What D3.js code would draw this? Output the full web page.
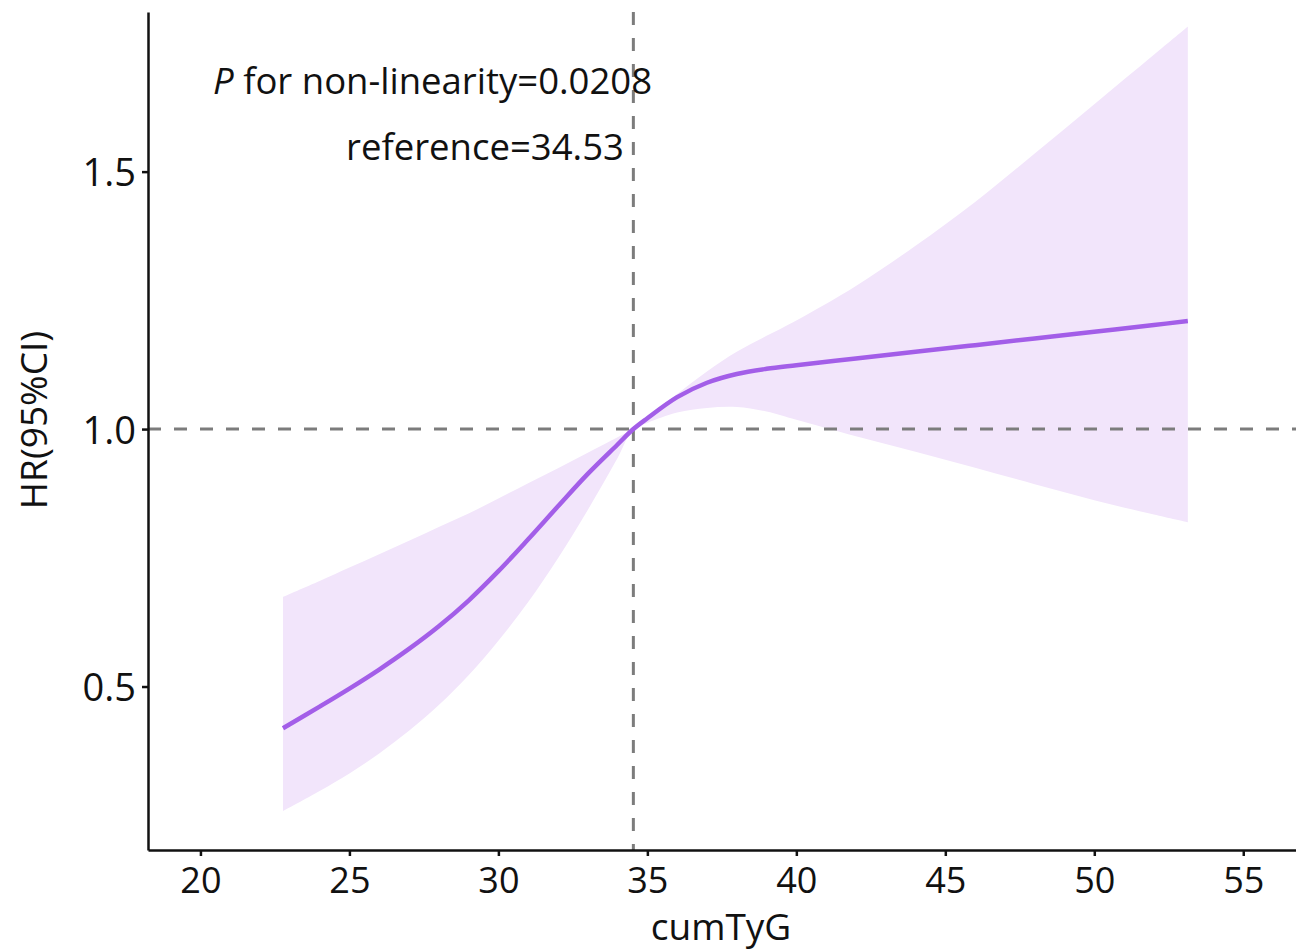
<head><script src="https://cdn.jsdelivr.net/npm/d3@7"></script></head>

<body>
  <svg class="chart" width="1296" height="952"></svg>

  <script>
    // cumTyG values where the spline was evaluated
    var cumTyG = [22.77, 24, 25, 26, 27, 28, 29, 30, 31, 32, 33, 34, 34.53, 35, 36, 37, 38, 39, 40, 42, 44, 46, 48, 50, 52, 53.14];
    // hazard ratio and its 95% CI
    var hr    = [0.419, 0.461, 0.496, 0.533, 0.573, 0.617, 0.667, 0.724, 0.786, 0.850, 0.913, 0.970, 1.000, 1.021, 1.062, 1.090, 1.107, 1.117, 1.124, 1.137, 1.150, 1.163, 1.176, 1.189, 1.202, 1.210];
    var lower = [0.258, 0.297, 0.331, 0.370, 0.414, 0.464, 0.522, 0.589, 0.664, 0.749, 0.843, 0.944, 1.000, 1.012, 1.032, 1.041, 1.043, 1.034, 1.018, 0.986, 0.956, 0.925, 0.893, 0.862, 0.834, 0.819];
    var upper = [0.674, 0.705, 0.731, 0.757, 0.783, 0.810, 0.836, 0.865, 0.895, 0.924, 0.954, 0.984, 1.000, 1.020, 1.068, 1.112, 1.150, 1.181, 1.211, 1.278, 1.356, 1.441, 1.535, 1.631, 1.727, 1.782];

    var xTicks = [20, 25, 30, 35, 40, 45, 50, 55];
    var yTicks = [0.5, 1.0, 1.5];
    var refValue = 34.53;
    var pText = "0.0208";

    var svg = d3.select(".chart");

    // plot area edges
    var plotLeft = 148, plotRight = 1296, plotTop = 12, plotBottom = 850;

    var x = d3.scaleLinear().domain([18.24, 56.77]).range([plotLeft, plotRight]);
    var y = d3.scaleLinear().domain([0.1825, 1.81]).range([plotBottom, plotTop]);

    var rows = cumTyG.map(function(v, i) {
      return {x: v, hr: hr[i], lo: lower[i], hi: upper[i]};
    });

    // confidence band
    var band = d3.area()
      .x(function(d) { return x(d.x); })
      .y0(function(d) { return y(d.lo); })
      .y1(function(d) { return y(d.hi); })
      .curve(d3.curveCatmullRom.alpha(0.5));

    svg.append("path").datum(rows).attr("d", band).attr("fill", "#f2e5fb");

    // reference lines
    svg.append("line")
      .attr("x1", plotLeft).attr("x2", plotRight)
      .attr("y1", y(1)).attr("y2", y(1))
      .attr("class", "refline");
    svg.append("line")
      .attr("x1", x(refValue)).attr("x2", x(refValue))
      .attr("y1", plotTop).attr("y2", plotBottom)
      .attr("class", "refline");

    // HR curve
    var line = d3.line()
      .x(function(d) { return x(d.x); })
      .y(function(d) { return y(d.hr); })
      .curve(d3.curveCatmullRom.alpha(0.5));

    svg.append("path").datum(rows).attr("d", line)
      .attr("fill", "none").attr("stroke", "#a35ee8").attr("stroke-width", 4.5);

    // axes
    var xAxis = svg.append("g")
      .attr("class", "axis")
      .attr("transform", "translate(0," + plotBottom + ")")
      .call(d3.axisBottom(x).tickValues(xTicks).tickSize(6).tickSizeOuter(0).tickPadding(10));
    xAxis.selectAll("text").attr("dy", 0).attr("y", 43);

    var yAxis = svg.append("g")
      .attr("class", "axis")
      .attr("transform", "translate(" + plotLeft + ",0)")
      .call(d3.axisLeft(y).tickValues(yTicks).tickFormat(d3.format(".1f")).tickSize(6).tickSizeOuter(0).tickPadding(10));
    yAxis.selectAll("text").attr("dy", 0).attr("y", 14).attr("x", -12).style("font-size", "38px");

    // axis titles
    svg.append("text")
      .attr("x", 721).attr("y", 940)
      .attr("text-anchor", "middle")
      .style("font-size", "37px")
      .text("cumTyG");

    svg.append("text")
      .attr("transform", "translate(47,420) rotate(-90)")
      .attr("text-anchor", "middle")
      .style("font-size", "37px")
      .text("HR(95%CI)");

    // annotations
    var ann = svg.append("text").attr("x", 213).attr("y", 94).style("font-size", "36.5px");
    ann.append("tspan").style("font-style", "italic").text("P");
    ann.append("tspan").text(" for non-linearity=" + pText);

    svg.append("text")
      .attr("x", 346).attr("y", 160)
      .style("font-size", "36.5px")
      .text("reference=" + refValue);
  </script>
</body>

<style>
body {
  margin: 0;
}

text, .axis text {
  font-family: 'Open Sans', 'Noto Sans', sans-serif;
  fill: #111;
}

.axis text {
  font-size: 36px;
}

.axis path, .axis line {
  stroke: #111;
  stroke-width: 2.5px;
}

.refline {
  stroke: #7c7c7c;
  stroke-width: 3px;
  stroke-dasharray: 13 13;
}
</style>
